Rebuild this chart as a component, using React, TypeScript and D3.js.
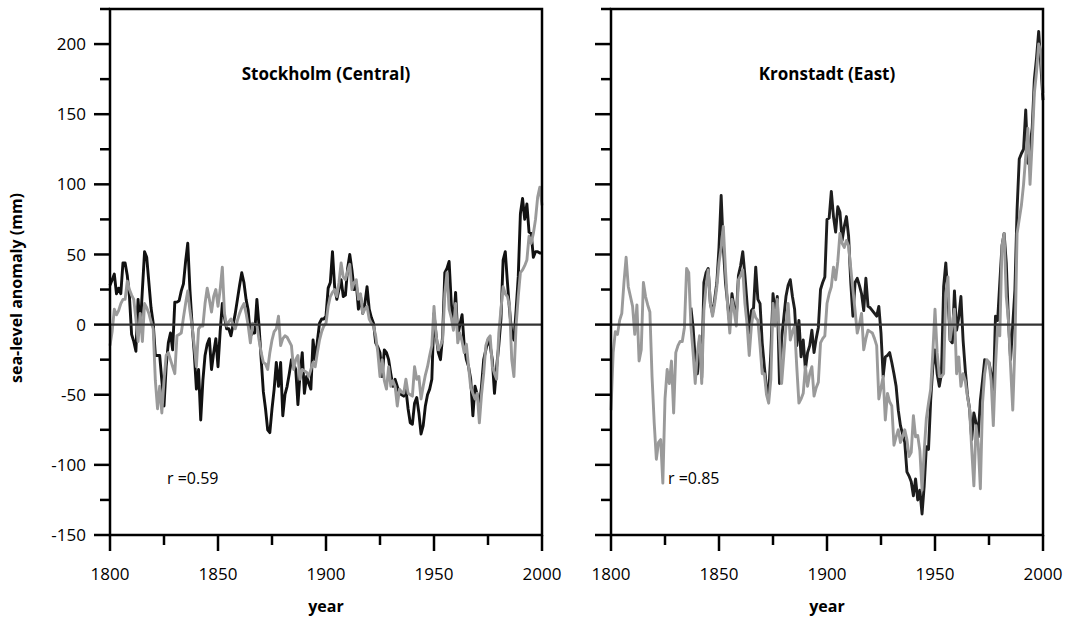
import React from 'react';
import * as d3 from 'd3';

// ---------- data (annual sea-level anomaly, mm) ----------
// Stockholm (Central): black = observed, grey = reconstructed, 1800-2000
const stockholmStart = 1800;
const stockholmObserved = [
  28, 32, 36, 22, 26, 22, 44, 44, 35, 20,
  -7, -12, -19, 18, -3, 25, 52, 48, 30, 12,
  1, -22, -22, -22, -40, -58, -30, -13, -6, -18,
  16, 16, 17, 24, 29, 45, 58, 25, 0, -20,
  -46, -32, -68, -40, -22, -14, -10, -32, -20, -10,
  -30, -5, 15, 5, -3, -3, -8, 0, 8, 18,
  28, 37, 30, 18, 10, -8, -6, -6, 18, -1,
  -25, -48, -60, -75, -77, -60, -46, -27, -44, -27,
  -65, -50, -44, -35, -25, -28, -32, -57, -35, -20,
  -49, -37, -42, -46, -11, -25, -12, 1, 4, 4,
  6, 26, 30, 52, 27, 18, 25, 32, 20, 21,
  40, 50, 39, 25, 30, 11, 20, 8, 15, 27,
  11, 5, 1, -13, -16, -20, -37, -18, -20, -25,
  -35, -44, -39, -44, -49, -50, -51, -46, -60, -70,
  -71, -56, -52, -63, -78, -72, -58, -50, -46, -39,
  8, -8, -20, -25, -8, 37, 40, 45, 15, -1,
  23, -8, 0, 7, -15, -25, -30, -39, -65, -44,
  -50, -58, -44, -25, -18, -11, -15, -25, -49, -30,
  -15, 4, 46, 52, 30, 10, -6, -11, 10, 34,
  79, 90, 75, 86, 66, 65, 48, 52, 52, 51,
  51,
];
const stockholmModel = [
  -15, -5, 11, 7, 10, 15, 18, 18, 31, 25,
  21, 18, 4, -12, 8, -12, 15, 12, 8, 2,
  -3, -40, -60, -44, -63, -40, -22, -20, -25, -30,
  -35, -8, -7, -6, 5, 15, 24, 10, -1, -15,
  -30, -3, -1, -1, 15, 26, 18, 9, 20, 25,
  13, 25, 41, 8, -1, 2, 4, 0, -3, 3,
  8, 12, 15, 8, -1, -13, 1, 0, 0, -11,
  -20, -27, -28, -32, -20, -11, -5, -3, 6, -15,
  -10, -8, -9, -12, -15, -32, -25, -22, -39, -32,
  -33, -34, -37, -32, -27, -30, -20, -11, -5, -1,
  1, 13, 20, 23, 25, 20, 30, 44, 34, 32,
  38, 43, 25, 30, 32, 18, 22, 8, 11, 13,
  4, 1, -1, -8, -20, -37, -25, -40, -46, -30,
  -44, -40, -44, -58, -46, -48, -49, -39, -49, -50,
  -51, -30, -39, -37, -53, -44, -36, -30, -22, -15,
  13, -8, -18, -15, -11, 22, 37, 11, 5, -4,
  15, -13, -6, -12, -20, -14, -30, -45, -49, -53,
  -49, -70, -50, -35, -15, -10, -8, -30, -35, -39,
  -6, 11, 27, 22, 20, 13, -25, -37, -1, 20,
  37, 39, 42, 46, 63, 58, 65, 75, 91, 98,
  85,
];

// Kronstadt (East): observed record starts 1837, reconstruction 1800-2000
const kronstadtObservedStart = 1837;
const kronstadtObserved = [
  12, -2, -25,
  -35, -10, -38, 30, 37, 40, 15, 8, 18, 30,
  55, 92, 55, 30, 15, 0, 22, 12, 5, 35,
  42, 52, 35, 15, -6, 10, 12, 41, 18, 15,
  -13, -30, -45, -50, -20, 22, 8, 20, -42, -10,
  5, 20, 28, 32, 20, 11, -15, 3, -23, -11,
  -32, -20, -15, -4, -20, -10, -2, 25, 30, 34,
  75, 76, 95, 77, 66, 84, 80, 60, 70, 77,
  63, 30, 6, 30, 33, 28, 22, 10, 33, 13,
  12, 10, 8, 6, 13, -6, -37, -23, -22, -20,
  -27, -35, -44, -61, -72, -78, -84, -105, -108, -112,
  -122, -110, -125, -118, -135, -115, -87, -89, -54, -30,
  -18, -35, -44, -35, 27, 44, 20, -11, -13, 24,
  -4, 5, 20, -11, -32, -50, -60, -82, -63, -70,
  -80, -54, -40, -25, -26, -27, -35, -51, 6, 3,
  30, 56, 65, 44, 3, -25, 0, 25, 82, 118,
  122, 125, 153, 115, 128, 140, 175, 190, 209, 185,
  160,
];
const kronstadtModelStart = 1800;
const kronstadtModel = [
  -61, -20, -5, -7, 3, 8, 30, 48, 27, 20,
  13, -7, 14, -26, -18, 30, 20, 14, 9, -37,
  -70, -96, -84, -82, -113, -53, -32, -42, -26, -63,
  -20, -15, -12, -12, -2, 40, 37, -1, -20, -42,
  -20, -8, -42, 10, 27, 39, 15, 6, 15, 27,
  44, 55, 70, 39, 13, -6, 18, 10, -1, 32,
  35, 39, 15, 0, -22, -1, 10, 5, 3, -15,
  -35, -35, -50, -56, -39, 15, -1, 18, -10, -42,
  -22, -1, 15, -11, -5, -1, -30, -56, -53, -49,
  -30, -44, -35, -30, -51, -45, -41, -13, -10, -8,
  15, 22, 27, 41, 32, 45, 65, 58, 55, 60,
  56, 40, 25, 10, -6, 0, 8, -18, -10, -4,
  -5, -6, -10, -15, -53, -45, -37, -68, -49, -55,
  -58, -86, -80, -75, -84, -80, -75, -82, -94, -91,
  -65, -80, -79, -90, -118, -90, -67, -56, -46, -20,
  11, -20, -37, -37, -35, 22, 34, -11, 0, 11,
  -35, -23, -44, -35, -40, -51, -60, -89, -115, -72,
  -85, -117, -56, -35, -25, -27, -40, -72, -30, 0,
  -8, 56, 65, 20, 3, -30, -61, -15, 65, 75,
  85, 100, 120, 140, 100, 130, 165, 180, 200, 195,
  165,
];

const panelTitles = ['Stockholm (Central)', 'Kronstadt (East)'];
const correlations = ['r =0.59', 'r =0.85'];
const yTicks = d3.range(-150, 226, 25);
const yLabelTicks = d3.range(-150, 201, 50);
const xTicks = d3.range(1800, 2001, 25);
const xLabelTicks = d3.range(1800, 2001, 50);

type Pt = { year: number; value: number };

const toPoints = (start: number, vals: number[]): Pt[] =>
  vals.map((v, i) => ({ year: start + i, value: v }));

const FONT = "'Open Sans', 'Noto Sans', sans-serif";

const W = 1069;
const H = 619;
const TOP = 9;
const BOTTOM = 535;
const PANEL_W = 432;

const y = d3.scaleLinear().domain([-150, 225]).range([BOTTOM, TOP]);

function Panel({
  left,
  title,
  r,
  observed,
  model,
  showYLabels,
  blackColor,
}: {
  left: number;
  title: string;
  r: string;
  observed: Pt[];
  model: Pt[];
  showYLabels: boolean;
  blackColor: string;
}) {
  const x = d3.scaleLinear().domain([1800, 2000]).range([left, left + PANEL_W]);
  const line = d3
    .line<Pt>()
    .x((d) => x(d.year))
    .y((d) => y(d.value))
    .curve(d3.curveLinear);
  const cx = left + PANEL_W / 2;
  return (
    <g>
      <path d={line(observed) || ''} fill="none" stroke={blackColor} strokeWidth={2.9} strokeLinejoin="round" />
      <path d={line(model) || ''} fill="none" stroke="#9a9a9a" strokeWidth={2.9} strokeLinejoin="round" />
      <line x1={x(1800)} x2={x(2000)} y1={y(0)} y2={y(0)} stroke="#333" strokeWidth={2.2} />
      <rect x={left} y={TOP} width={PANEL_W} height={BOTTOM - TOP} fill="none" stroke="#000" strokeWidth={2.5} />
      {yTicks.map((t) => (
        <line
          key={'yt' + t}
          x1={left - (t % 50 === 0 ? 16 : 10)}
          x2={left}
          y1={y(t)}
          y2={y(t)}
          stroke="#000"
          strokeWidth={2.5}
        />
      ))}
      {showYLabels &&
        yLabelTicks.map((t) => (
          <text
            key={'yl' + t}
            x={left - 24}
            y={y(t)}
            dy="0.36em"
            textAnchor="end"
            fontSize={17}
            fontFamily={FONT}
            fill="#000"
          >
            {t}
          </text>
        ))}
      {xTicks.map((t) => (
        <line
          key={'xt' + t}
          x1={x(t)}
          x2={x(t)}
          y1={BOTTOM}
          y2={BOTTOM + (t % 50 === 0 ? 16 : 10)}
          stroke="#000"
          strokeWidth={2.5}
        />
      ))}
      {xLabelTicks.map((t) => (
        <text
          key={'xl' + t}
          x={x(t)}
          y={580}
          textAnchor="middle"
          fontSize={17}
          fontFamily={FONT}
          fill="#000"
        >
          {t}
        </text>
      ))}
      <text x={cx} y={612} textAnchor="middle" fontSize={16} fontWeight="bold" fontFamily={FONT}>
        year
      </text>
      <text x={cx} y={80} textAnchor="middle" fontSize={17} fontWeight="bold" fontFamily={FONT}>
        {title}
      </text>
      <text x={left + 57} y={484} fontSize={16} fontFamily={FONT}>
        {r}
      </text>
    </g>
  );
}

export default function App() {
  const stockObs = toPoints(stockholmStart, stockholmObserved);
  const stockMod = toPoints(stockholmStart, stockholmModel);
  const kronObs = toPoints(kronstadtObservedStart, kronstadtObserved);
  const kronMod = toPoints(kronstadtModelStart, kronstadtModel);
  return (
    <svg
      width={W}
      height={H}
      style={{ position: 'absolute', left: 0, top: 0, background: '#fff' }}
      xmlns="http://www.w3.org/2000/svg"
    >
      <rect x={0} y={0} width={W} height={H} fill="#fff" />
      <Panel
        left={110}
        title={panelTitles[0]}
        r={correlations[0]}
        observed={stockObs}
        model={stockMod}
        showYLabels={true}
        blackColor="#111"
      />
      <Panel
        left={611}
        title={panelTitles[1]}
        r={correlations[1]}
        observed={kronObs}
        model={kronMod}
        showYLabels={false}
        blackColor="#1e1e1e"
      />
      <text
        transform={`translate(22, 288) rotate(-90)`}
        textAnchor="middle"
        fontSize={16}
        fontWeight="bold"
        fontFamily={FONT}
      >
        sea-level anomaly (mm)
      </text>
    </svg>
  );
}
